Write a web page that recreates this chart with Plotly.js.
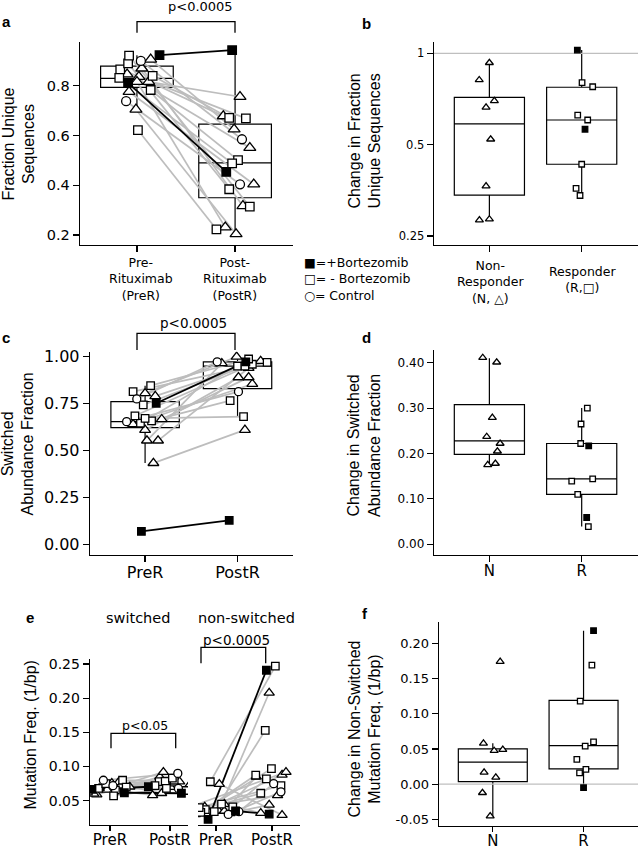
<!DOCTYPE html>
<html><head><meta charset="utf-8">
<script src="https://cdn.plot.ly/plotly-3.0.1.min.js"></script>
<style>html,body{margin:0;padding:0;background:#fff}#chart{width:638px;height:850px}</style>
</head><body><div id="chart"></div>
<script>
// ---------------- DATA ----------------
// patient groups: F = +Bortezomib (filled square), C = control (circle), N = non-responder (triangle), R = responder (open square)
const groups = ['F','F','C','C','N','N','N','N','N','N','N','N','R','R','R','R','R','R','R'];
const categoriesPair = ['PreR','PostR'];
const categoriesResp = ['N','R'];

// panel a: fraction unique sequences
const aPre  = [0.923,0.812,0.900,0.738, 0.816,0.836,0.906,0.846,0.776,0.870,0.816,0.705, 0.840,0.866,0.783,0.832,0.890,0.921,0.622];
const aPost = [0.943,0.454,0.585,0.404, 0.756,0.678,0.625,0.551,0.404,0.317,0.231,0.204, 0.671,0.669,0.501,0.488,0.384,0.314,0.223];
const aPreJit  = [0.23,-0.09,0.04,-0.11, 0.12,0.02,0.14,-0.10,-0.08,0.05,0.00,-0.01, 0.16,-0.17,0.14,-0.18,-0.09,-0.08,0.01];
const aPostJit = [-0.03,-0.09,0.07,0.05, 0.05,-0.12,-0.01,0.15,0.19,0.08,-0.10,0.01, -0.06,0.11,0.03,-0.03,-0.06,0.15,-0.19];
const aQ1 = [0.794,0.350], aMed = [0.830,0.490], aQ3 = [0.879,0.646], aLo = [0.705,0.204], aHi = [0.923,0.943];

// panel b: change in fraction unique sequences (log scale)
const bN = [0.931,0.817,0.697,0.664,0.521,0.365,0.282,0.284];
const bNJit = [0,-0.11,0.054,-0.036,0.014,-0.036,-0.108,0];
const bR = [1.025,0.800,0.776,0.626,0.603,0.562,0.431,0.359,0.340];
const bRFilled = [1,0,0,0,0,1,0,0,0];
const bRJit = [-0.047,0.004,0.119,-0.043,0.065,0.036,0,-0.061,-0.018];
const bQ1 = [0.341,0.431], bMed = [0.585,0.603], bQ3 = [0.716,0.773], bLo = [0.282,0.340], bHi = [0.931,1.025];

// panel c: switched abundance fraction
const cPre  = [0.752,0.069,0.775,0.654, 0.433,0.553,0.553,0.610,0.640,0.667,0.805,0.790, 0.646,0.685,0.743,0.846,0.814,0.658,0.672];
const cPost = [0.973,0.128,0.973,0.814, 0.610,0.965,0.940,0.890,0.855,0.890,1.000,0.977, 0.950,0.960,0.950,0.988,0.970,0.766,0.681];
const cPreJit  = [0.12,-0.04,-0.09,-0.20, 0.09,0.02,0.14,0.00,-0.13,0.18,0.00,0.11, -0.05,-0.11,-0.02,0.06,-0.13,0.07,0.00];
const cPostJit = [0.09,-0.09,-0.22,0.01, 0.08,-0.17,0.12,0.01,0.16,0.12,-0.01,0.25, 0.00,0.16,0.08,0.12,0.32,-0.08,0.065];
const cQ1 = [0.622,0.830], cMed = [0.654,0.950], cQ3 = [0.761,0.973], cLo = [0.433,0.681], cHi = [0.846,1.000];

// panel d: change in switched abundance fraction
const dN = [0.411,0.401,0.279,0.237,0.222,0.205,0.175,0.178];
const dNJit = [-0.072,0.079,0.032,-0.029,0.116,0.087,-0.018,0.065];
const dR = [0.300,0.265,0.222,0.217,0.139,0.144,0.110,0.059,0.039];
const dRFilled = [0,0,0,1,0,0,0,1,0];
const dRJit = [0.061,-0.007,-0.011,0.076,-0.108,0.119,-0.043,0.054,0.072];
const dQ1 = [0.198,0.110], dMed = [0.228,0.144], dQ3 = [0.3075,0.222], dLo = [0.175,0.039], dHi = [0.410,0.300];

// panel e: mutation frequency, switched
const eSwPre  = [0.0667,0.0617,0.080,0.072, 0.059,0.076,0.066,0.077,0.0705,0.060,0.072,0.068, 0.068,0.0657,0.057,0.080,0.070,0.075,0.064];
const eSwPost = [0.0705,0.061,0.090,0.068, 0.085,0.061,0.070,0.078,0.070,0.092,0.075,0.058, 0.078,0.0785,0.068,0.080,0.083,0.065,0.072];
const eSwPreJit  = [-0.30,0.24,-0.11,0.05, -0.22,0.03,-0.05,0.14,0.33,-0.27,0.18,-0.18, -0.19,0.09,0.06,0.21,0.27,-0.07,-0.36];
const eSwPostJit = [-0.36,0.19,0.13,0.14, -0.17,-0.14,0.01,0.16,0.30,-0.11,0.07,-0.29, -0.18,-0.08,-0.06,0.07,0.04,0.25,-0.25];
// panel e: mutation frequency, non-switched
const eNsPre  = [0.0228,0.035,0.034,0.030, 0.035,0.030,0.0437,0.035,0.041,0.0316,0.045,0.0744, 0.0778,0.034,0.037,0.033,0.041,0.040,0.045];
const eNsPost = [0.241,0.0305,0.075,0.063, 0.208,0.088,0.092,0.085,0.058,0.044,0.032,0.029, 0.247,0.153,0.097,0.0876,0.082,0.072,0.061];
const eNsPreJit  = [-0.14,0.35,0.41,0.22, 0.05,-0.37,-0.37,0.15,-0.20,0.25,0.15,0.06, -0.10,-0.03,-0.19,-0.27,0.30,-0.30,0.10];
const eNsPostJit = [-0.10,-0.05,0.03,0.16, -0.05,0.18,0.25,-0.28,0.10,-0.05,-0.20,0.18, 0.06,-0.12,-0.01,-0.29,-0.10,0.16,-0.20];

// panel f: change in non-switched mutation frequency
const fN = [0.174,0.058,0.0475,0.049,0.0168,0.0097,-0.0122,-0.0453];
const fNJit = [0.081,-0.103,0.015,0.11,-0.096,0.033,-0.114,-0.029];
const fR = [0.218,0.169,0.118,0.060,0.054,0.0353,0.021,0.016,-0.005];
const fRFilled = [1,0,0,0,0,0,0,0,1];
const fRJit = [0.11,0.092,-0.037,0.11,0.018,-0.074,0.026,-0.044,0];
const fQ1 = [0.0037,0.0217], fMed = [0.0313,0.0546], fQ3 = [0.050,0.119], fLo = [-0.0463,-0.005], fHi = [0.058,0.218];

// ---------------- HELPERS ----------------
const W = 638, H = 850;
const px = v => v / W;
const py = v => 1 - v / H;
const DJ = 'DejaVu Sans', LS = 'Liberation Sans';
const sym = {F:'square', C:'circle', N:'triangle-up', R:'square'};
const fillc = {F:'#000', C:'#fff', N:'#fff', R:'#fff'};

function xax(d, range, anchor, tickvals, ticktext, fs, extra) {
  return Object.assign({domain:[px(d[0]),px(d[1])], range, anchor, showline:true, linecolor:'#000', linewidth:1.3,
    ticks:'outside', ticklen:6, tickwidth:1.2, tickcolor:'#000', tickvals, ticktext,
    tickfont:{family:DJ,size:fs,color:'#000'}, showgrid:false, zeroline:false, fixedrange:true}, extra||{});
}
function yax(d, range, anchor, tickvals, ticktext, fs, extra) {
  return Object.assign({domain:[py(d[1]),py(d[0])], range, anchor, showline:true, linecolor:'#000', linewidth:1.3,
    ticks:'outside', ticklen:6, tickwidth:1.2, tickcolor:'#000', tickvals, ticktext,
    tickfont:{family:DJ,size:fs,color:'#000'}, showgrid:false, zeroline:false, fixedrange:true}, extra||{});
}
function boxTrace(q1,med,q3,lo,hi,xa,ya,w) {
  return {type:'box', x:[0,1], q1, median:med, q3, lowerfence:lo, upperfence:hi, width:w||0.74,
    xaxis:xa, yaxis:ya, fillcolor:'rgba(0,0,0,0)', line:{color:'#000',width:1.2}, whiskerwidth:0,
    boxpoints:false, hoverinfo:'skip'};
}
function pairedTraces(pre, post, preJ, postJ, xa, ya, sz) {
  const tr = [];
  const gx=[],gy=[],bx=[],by=[];
  groups.forEach((g,i)=>{
    const X=[0+preJ[i], 1+postJ[i], null], Y=[pre[i], post[i], null];
    if (g==='F') { bx.push(...X); by.push(...Y); } else { gx.push(...X); gy.push(...Y); }
  });
  tr.push({type:'scatter',mode:'lines',x:gx,y:gy,xaxis:xa,yaxis:ya,line:{color:'#bdbdbd',width:1.7},hoverinfo:'skip'});
  tr.push({type:'scatter',mode:'lines',x:bx,y:by,xaxis:xa,yaxis:ya,line:{color:'#000',width:1.8},hoverinfo:'skip'});
  ['N','R','C','F'].forEach(g=>{
    const X=[],Y=[];
    groups.forEach((gg,i)=>{ if (gg===g) { X.push(0+preJ[i], 1+postJ[i]); Y.push(pre[i], post[i]); } });
    tr.push({type:'scatter',mode:'markers',x:X,y:Y,xaxis:xa,yaxis:ya,
      marker:{symbol:sym[g],size:sz[g],color:fillc[g],line:{color:'#000',width:1.3}},hoverinfo:'skip'});
  });
  return tr;
}
function respTraces(nV,nJ,rV,rJ,rF,xa,ya,sz) {
  const tr=[];
  tr.push({type:'scatter',mode:'markers',x:nJ.map(j=>0+j),y:nV,xaxis:xa,yaxis:ya,
    marker:{symbol:'triangle-up',size:sz.N,color:'#fff',line:{color:'#000',width:1.3}},hoverinfo:'skip'});
  const ox=[],oy=[],fx=[],fy=[];
  rV.forEach((v,i)=>{ if (rF[i]) { fx.push(1+rJ[i]); fy.push(v); } else { ox.push(1+rJ[i]); oy.push(v); } });
  tr.push({type:'scatter',mode:'markers',x:ox,y:oy,xaxis:xa,yaxis:ya,
    marker:{symbol:'square',size:sz.R,color:'#fff',line:{color:'#000',width:1.3}},hoverinfo:'skip'});
  tr.push({type:'scatter',mode:'markers',x:fx,y:fy,xaxis:xa,yaxis:ya,
    marker:{symbol:'square',size:sz.R,color:'#000',line:{color:'#000',width:1.3}},hoverinfo:'skip'});
  return tr;
}
function refLine(xr, yv, xa, ya) {
  return {type:'scatter',mode:'lines',x:xr,y:[yv,yv],xaxis:xa,yaxis:ya,line:{color:'#bfbfbf',width:1.3},hoverinfo:'skip'};
}
function txt(x,y,text,size,o) {
  return Object.assign({xref:'paper',yref:'paper',x:px(x),y:py(y),text,showarrow:false,
    font:{family:DJ,size,color:'#000'},xanchor:'center',yanchor:'middle'}, o||{});
}
function ytitle(x,y,text,size) {
  return txt(x,y,text,size,{textangle:-90,font:{family:LS,size,color:'#000'}});
}
function bracket(x1,x2,yTop,yBot) {
  return {type:'path',xref:'paper',yref:'paper',
    path:`M${px(x1)},${py(yBot)} L${px(x1)},${py(yTop)} L${px(x2)},${py(yTop)} L${px(x2)},${py(yBot)}`,
    line:{color:'#000',width:1.3}};
}

// ---------------- AXES ----------------
const xrA=[-0.58,1.59], xrB=[-0.6,1.61], xrC=[-0.596,1.60], xrE1=[-0.333,1.30], xrE2=[-0.32,1.50], xrF=[-0.593,1.60];
const up = {ticklabelstandoff:-4};
const layout = {
  width:W, height:H, margin:{l:0,r:0,t:0,b:0}, paper_bgcolor:'#fff', plot_bgcolor:'rgba(0,0,0,0)',
  showlegend:false, font:{family:DJ,color:'#000'},
  xaxis:  xax([80,293], xrA, 'y', [0,1], ['',''], 12),
  yaxis:  yax([42,245], [0.16,0.976], 'x', [0.2,0.4,0.6,0.8], ['0.2','0.4','0.6','0.8'], 14.5),
  xaxis2: xax([434,638], xrB, 'y2', [0,1], ['',''], 12),
  yaxis2: yax([42,245], [-0.6317,0.0373], 'x2', [0.25,0.5,1], ['0.25','0.5','1'], 11.5, {type:'log'}),
  xaxis3: xax([90,293], xrC, 'y3', [0,1], categoriesPair, 16, up),
  yaxis3: yax([351.7,555], [-0.057,1.027], 'x3', [0,0.25,0.5,0.75,1], ['0.00','0.25','0.50','0.75','1.00'], 16),
  xaxis4: xax([434,638], xrB, 'y4', [0,1], categoriesResp, 15, up),
  yaxis4: yax([350,555], [-0.0236,0.428], 'x4', [0,0.1,0.2,0.3,0.4], ['0.00','0.10','0.20','0.30','0.40'], 12),
  xaxis5: xax([90,188], xrE1, 'y5', [0,1], categoriesPair, 15, {ticklabelstandoff:-4, ticklen:5}),
  yaxis5: yax([659.3,825], [0.0145,0.257], 'x5', [0.05,0.1,0.15,0.2,0.25], ['0.05','0.10','0.15','0.20','0.25'], 14),
  xaxis6: xax([198,300], xrE2, 'y6', [0,1], categoriesPair, 15, {ticklabelstandoff:-4, ticklen:5}),
  yaxis6: yax([659.3,825], [0.0145,0.257], 'x6', [], [], 14, {visible:false}),
  xaxis7: xax([439,638], xrF, 'y7', [0,1], categoriesResp, 15, {ticklabelstandoff:-4, ticklen:5}),
  yaxis7: yax([621.7,825.7], [-0.059,0.2307], 'x7', [-0.05,0,0.05,0.1,0.15,0.2], ['-0.05','0.00','0.05','0.10','0.15','0.20'], 13),
  shapes: [
    bracket(137,235,21.7,32.7),
    bracket(137,235,333.3,350),
    bracket(111,175.7,733.3,748.3),
    bracket(201,265.7,647.3,663.3)
  ],
  annotations: [
    txt(6,22,'<b>a</b>',15,{font:{family:LS,size:15,color:'#000'}}),
    txt(366,23,'<b>b</b>',15,{font:{family:LS,size:15,color:'#000'}}),
    txt(6,337,'<b>c</b>',15,{font:{family:LS,size:15,color:'#000'}}),
    txt(367,337,'<b>d</b>',15,{font:{family:LS,size:15,color:'#000'}}),
    txt(30,617,'<b>e</b>',15,{font:{family:LS,size:15,color:'#000'}}),
    txt(365,613,'<b>f</b>',15,{font:{family:LS,size:15,color:'#000'}}),
    txt(200,7,'p&lt;0.0005',13),
    txt(193,323,'p&lt;0.0005',13.5),
    txt(145,725,'p&lt;0.05',12.5),
    txt(236,640,'p&lt;0.0005',13.5),
    txt(141,253,'Pre-<br>Rituximab<br>(PreR)',12.5,{yanchor:'top'}),
    txt(235,253,'Post-<br>Rituximab<br>(PostR)',12.5,{yanchor:'top'}),
    txt(302,253,'■=+Bortezomib<br>□= - Bortezomib<br>○= Control',12.5,{xanchor:'left',yanchor:'top',align:'left'}),
    txt(490,256,'Non-<br>Responder<br>(N, △)',12.5,{yanchor:'top'}),
    txt(582,280,'Responder<br>(R,□)',12.5),
    txt(138,618,'switched',14.5),
    txt(246,618,'non-switched',14.5),
    ytitle(18.5,144,'Fraction Unique<br>Sequences',16),
    ytitle(364.5,141,'Change in Fraction<br>Unique Sequences',16),
    ytitle(17.5,444,'Switched<br>Abundance Fraction',16),
    ytitle(364,446,'Change in Switched<br>Abundance Fraction',16),
    ytitle(29.5,735,'Mutation Freq. (1/bp)',16),
    ytitle(364.5,729,'Change in Non-Switched<br>Mutation Freq. (1/bp)',16)
  ]
};

// ---------------- TRACES ----------------
const szA = {N:10.5,R:8.5,C:9,F:8.5};
const szC = {N:9.5,R:7.5,C:8,F:7.5};
const szE = {N:9,R:7.5,C:8,F:7.5};
const szS = {N:7,R:5.5};
let data = [];
data.push(boxTrace(aQ1,aMed,aQ3,aLo,aHi,'x','y'));
data = data.concat(pairedTraces(aPre,aPost,aPreJit,aPostJit,'x','y',szA));
data.push(refLine(xrB,1,'x2','y2'));
data.push(boxTrace(bQ1,bMed,bQ3,bLo,bHi,'x2','y2',0.76));
data = data.concat(respTraces(bN,bNJit,bR,bRJit,bRFilled,'x2','y2',szS));
data.push(boxTrace(cQ1,cMed,cQ3,cLo,cHi,'x3','y3'));
data = data.concat(pairedTraces(cPre,cPost,cPreJit,cPostJit,'x3','y3',szC));
data.push(boxTrace(dQ1,dMed,dQ3,dLo,dHi,'x4','y4',0.76));
data = data.concat(respTraces(dN,dNJit,dR,dRJit,dRFilled,'x4','y4',szS));
data = data.concat(pairedTraces(eSwPre,eSwPost,eSwPreJit,eSwPostJit,'x5','y5',szE));
data = data.concat(pairedTraces(eNsPre,eNsPost,eNsPreJit,eNsPostJit,'x6','y6',szE));
data.push(refLine(xrF,0,'x7','y7'));
data.push(boxTrace(fQ1,fMed,fQ3,fLo,fHi,'x7','y7',0.76));
data = data.concat(respTraces(fN,fNJit,fR,fRJit,fRFilled,'x7','y7',szS));

Plotly.newPlot('chart', data, layout, {staticPlot:true});
</script></body></html>
